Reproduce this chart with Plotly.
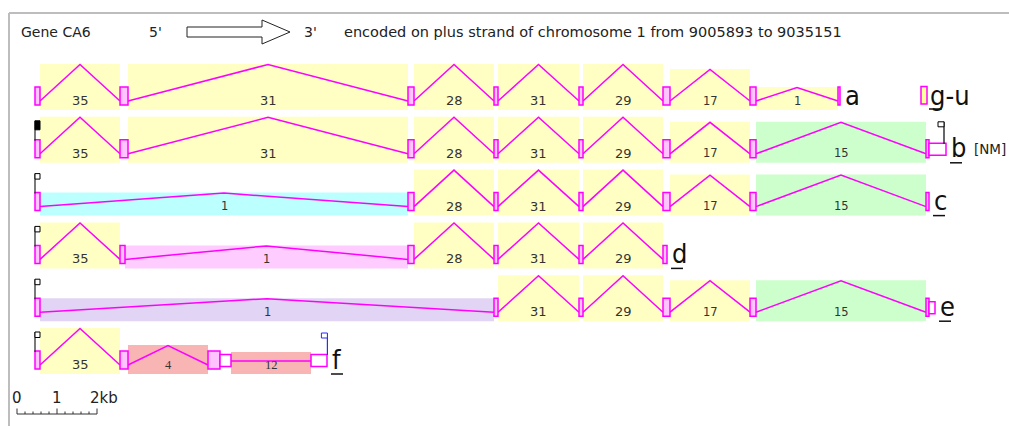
import plotly.graph_objects as go

# ---------------- data ----------------
GENE = "CA6"
CHROMOSOME = "1"
GENE_FROM = 9005893
GENE_TO = 9035151

VARIANTS = ["a", "b", "c", "d", "e", "f"]

# exon extents along the drawing (kb)
EXONS_A = [(0.45, 0.575), (2.575, 2.775), (9.775, 9.925), (11.925, 12.025),
           (14.05, 14.15), (16.15, 16.325), (18.325, 18.475), (20.525, 20.575)]
EXONS_B = [(0.45, 0.575), (2.575, 2.775), (9.775, 9.925), (11.925, 12.025),
           (14.05, 14.15), (16.15, 16.325), (18.325, 18.475), (22.725, 22.8)]
EXONS_C = [(0.45, 0.575), (9.775, 9.925), (11.925, 12.025),
           (14.05, 14.15), (16.15, 16.325), (18.325, 18.475), (22.725, 22.8)]
EXONS_D = [(0.45, 0.575), (2.575, 2.7), (9.775, 9.925), (11.925, 12.025),
           (14.05, 14.15), (16.15, 16.25)]
EXONS_E = [(0.45, 0.575), (11.925, 12.025), (14.05, 14.15), (16.15, 16.325),
           (18.325, 18.475), (22.725, 22.8)]
EXONS_F = [(0.45, 0.575), (2.575, 2.775), (4.775, 5.075)]

# untranslated (open) segments
UTRS_B = [(22.8, 23.225)]
UTRS_E = [(22.8, 22.95)]
UTRS_F = [(5.075, 5.35), (7.35, 7.75)]

# introns: (start, end, supporting clones, colour group)
INTRONS_A = [(0.575, 2.575, 35, "y"), (2.775, 9.775, 31, "y"), (9.925, 11.925, 28, "y"),
             (12.025, 14.05, 31, "y"), (14.15, 16.15, 29, "y"), (16.325, 18.325, 17, "y"),
             (18.475, 20.525, 1, "y")]
INTRONS_B = [(0.575, 2.575, 35, "y"), (2.775, 9.775, 31, "y"), (9.925, 11.925, 28, "y"),
             (12.025, 14.05, 31, "y"), (14.15, 16.15, 29, "y"), (16.325, 18.325, 17, "y"),
             (18.475, 22.725, 15, "g")]
INTRONS_C = [(0.575, 9.775, 1, "c"), (9.925, 11.925, 28, "y"), (12.025, 14.05, 31, "y"),
             (14.15, 16.15, 29, "y"), (16.325, 18.325, 17, "y"), (18.475, 22.725, 15, "g")]
INTRONS_D = [(0.575, 2.575, 35, "y"), (2.7, 9.775, 1, "p"), (9.925, 11.925, 28, "y"),
             (12.025, 14.05, 31, "y"), (14.15, 16.15, 29, "y")]
INTRONS_E = [(0.575, 11.925, 1, "v"), (12.025, 14.05, 31, "y"), (14.15, 16.15, 29, "y"),
             (16.325, 18.325, 17, "y"), (18.475, 22.725, 15, "g")]
INTRONS_F = [(0.575, 2.575, 35, "y"), (2.775, 4.775, 4, "s")]
FLAT_SEGMENTS_F = [(5.35, 7.35, 12, "s")]

START_FLAGS = {"b": "filled", "c": "open", "d": "open", "e": "open", "f": "open"}
END_FLAGS = {"b": (23.175, "#000000"), "f": (7.76, "#2b2bff")}
EXTRA_TAGS = {"b": "[NM]"}

SCALE_TICKS = [0, 0.2, 0.4, 0.6, 0.8, 1.0, 1.2, 1.4, 1.6, 1.8, 2.0]
SCALE_LABELS = [(0, "0"), (1, "1"), (2, "2kb")]

EXONS = dict(zip(VARIANTS, [EXONS_A, EXONS_B, EXONS_C, EXONS_D, EXONS_E, EXONS_F]))
UTRS = {"b": UTRS_B, "e": UTRS_E, "f": UTRS_F}
INTRONS = dict(zip(VARIANTS, [INTRONS_A, INTRONS_B, INTRONS_C, INTRONS_D, INTRONS_E, INTRONS_F]))
FLATS = {"f": FLAT_SEGMENTS_F}

# ---------------- style ----------------
W, H = 1009, 426
BAND_COLORS = {"y": "#ffffc4", "g": "#ccffcc", "c": "#bbffff", "p": "#ffccff",
               "v": "#e2d4f4", "s": "#f9b4b4"}
MAGENTA = "#ff00ff"
EXON_FILL = "#ffc4ff"
FONT = "DejaVu Sans, Verdana, sans-serif"
BIGFONT = "Liberation Sans Narrow, DejaVu Sans Condensed, Liberation Sans, sans-serif"


def band_top(support):
    if support >= 28:
        return 0
    if support >= 15:
        return 5
    if support >= 10:
        return 24
    if support >= 4:
        return 17
    return 23


def label_size(support, serif=False):
    if serif:
        return 12.5
    return 13 if support >= 28 else 11.5


ROW_Y0, ROW_STEP = 64, 52.8
shapes, anns = [], []


def px(x):
    return x / W


def rect(x0, x1, y0, y1, fill, line=None, lw=1.5, xref="x"):
    shapes.append(dict(type="rect", xref=xref, yref="y", x0=x0, x1=x1, y0=y0, y1=y1,
                       fillcolor=fill, line=dict(color=line or fill, width=lw if line else 0)))


def seg(x0, y0, x1, y1, color, lw=1.0, xref="x"):
    shapes.append(dict(type="line", xref=xref, yref="y", x0=x0, y0=y0, x1=x1, y1=y1,
                       line=dict(color=color, width=lw)))


def text(x, y, s, size, color="#222", xanchor="left", family=FONT, xref="x"):
    anns.append(dict(x=x, y=y, xref=xref, yref="y", text=s, showarrow=False,
                     xanchor=xanchor, yanchor="middle",
                     font=dict(family=family, size=size, color=color)))


for i, v in enumerate(VARIANTS):
    T = ROW_Y0 + ROW_STEP * i
    # bands
    for s, e, sup, c in INTRONS[v] + FLATS.get(v, []):
        rect(s, e, T + band_top(sup), T + 46, BAND_COLORS[c])
    # chevrons
    for s, e, sup, c in INTRONS[v]:
        m = (s + e) / 2
        shapes.append(dict(type="path", xref="x", yref="y",
                           path=f"M {s},{T+37} L {m},{T+band_top(sup)+0.5} L {e},{T+37}",
                           line=dict(color=MAGENTA, width=1.5)))
    for s, e, sup, c in FLATS.get(v, []):
        seg(s, T + 33, e, T + 33, MAGENTA, 1.5)
    # numbers
    for s, e, sup, c in INTRONS[v] + FLATS.get(v, []):
        serif = c == "s"
        fam = "Liberation Serif, serif" if serif else FONT
        text((s + e) / 2, T + 36.5, str(sup), label_size(sup, serif), "#333", "center", fam)
    # exons
    for s, e in EXONS[v]:
        rect(s, e, T + 23, T + 41, EXON_FILL, MAGENTA, 1.5)
    for s, e in UTRS.get(v, []):
        rect(s, e, T + 26.5, T + 38.5, "#ffffff", MAGENTA, 1.5)
    # start flag
    if v in START_FLAGS:
        x0 = EXONS[v][0][0]
        seg(x0, T + 4, x0, T + 24, "#222", 1.2)
        fill = "#000000" if START_FLAGS[v] == "filled" else "#ffffff"
        top_h = 13 if START_FLAGS[v] == "filled" else 9.5
        rect(x0, x0 + 0.125, T + 4, T + top_h, fill, "#000000", 1)
    if v in END_FLAGS:
        xf, col = END_FLAGS[v]
        seg(xf, T + 5, xf, T + 27, col, 1.2)
        rect(xf - 0.15, xf, T + 5, T + 10, "#ffffff", col, 1)
    # variant label
    last = max([e for s, e in EXONS[v]] + [e for s, e in UTRS.get(v, [])])
    lx = last + 0.1
    text(lx - 0.03, T + 31, v, 27, "#111", "left", BIGFONT)
    if v != "a":
        seg(lx, T + 46, lx + 0.3, T + 46, "#111", 1.5)
    if v in EXTRA_TAGS:
        text(lx + 0.55, T + 32, EXTRA_TAGS[v], 13.5, "#222", "left", FONT)

# legend "g-u"
T = ROW_Y0
rect(22.6, 22.75, T + 22.5, T + 40, "#ffff9c", MAGENTA, 1.5)
text(22.77, T + 31, "g-u", 27, "#111", "left", BIGFONT)
seg(22.8, T + 45, 23.12, T + 45, "#111", 1.5)

# scale bar
for t in SCALE_TICKS:
    major = abs(t - round(t)) < 1e-9
    seg(t, 414, t, 408.5 if major else 411.5, "#333", 1)
seg(SCALE_TICKS[0], 414, SCALE_TICKS[-1], 414, "#333", 1)
for t, s in SCALE_LABELS:
    if s.endswith("kb"):
        text(t - 0.22, 398, s, 15, "#222", "left")
    else:
        text(t, 398, s, 15, "#222", "center")

# header
HDR = 14
text(px(19), 32, f"Gene {GENE}", HDR, "#222", "left", FONT, "paper")
text(px(147), 32, "5'", HDR, "#222", "left", FONT, "paper")
text(px(302), 32, "3'", HDR, "#222", "left", FONT, "paper")
text(px(342), 32, f"encoded on plus strand of chromosome {CHROMOSOME} from {GENE_FROM} to {GENE_TO}",
     14.5, "#222", "left", FONT, "paper")
arrow_pts = [(187, 27), (262, 27), (262, 20), (290, 32), (262, 44), (262, 37), (187, 37)]
shapes.append(dict(type="path", xref="paper", yref="y",
                   path="M " + " L ".join(f"{px(x)},{y}" for x, y in arrow_pts) + " Z",
                   fillcolor="#ffffff", line=dict(color="#222", width=1)))

# frame
seg(px(9), 13, px(9), H, "#bdbdbd", 2, "paper")
seg(px(9), 13, px(W), 13, "#bdbdbd", 2, "paper")

fig = go.Figure()
fig.add_trace(go.Scatter(x=[0, 2], y=[414, 414], mode="markers",
                         marker=dict(size=1, color="rgba(0,0,0,0)"), hoverinfo="skip",
                         showlegend=False))
fig.update_layout(
    width=W, height=H, margin=dict(l=0, r=0, t=0, b=0),
    paper_bgcolor="white", plot_bgcolor="white",
    xaxis=dict(range=[-17 / 40, (W - 17) / 40], visible=False, fixedrange=True),
    yaxis=dict(range=[H, 0], visible=False, fixedrange=True),
    shapes=shapes, annotations=anns, showlegend=False,
)
fig.write_html("out.html")
